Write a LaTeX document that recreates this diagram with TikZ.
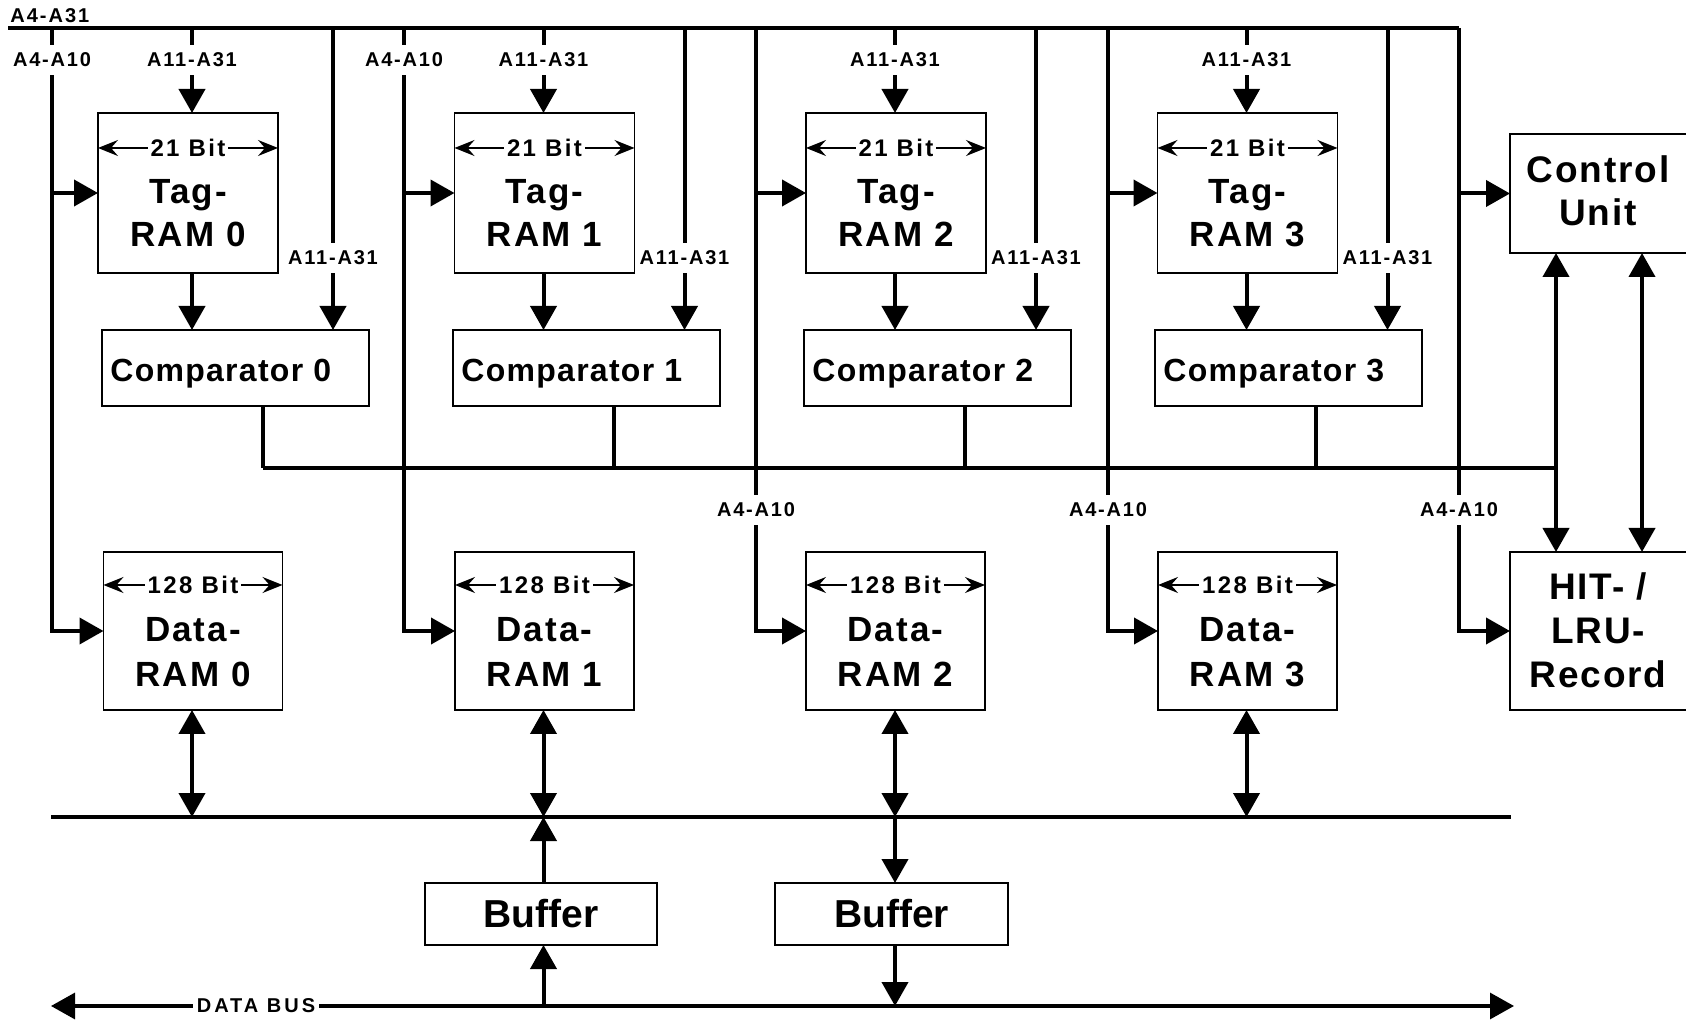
\documentclass[tikz,border=0pt]{standalone}
\usepackage{fontspec}
\setmainfont{Liberation Sans}
\usetikzlibrary{arrows.meta,calc}

% bold Arial-like face at a given size with extra tracking
\newcommand{\txtfont}[2]{\fontsize{#1}{#1}\selectfont\bfseries\addfontfeature{LetterSpace=#2}}

\tikzset{
  blk/.style={draw, line width=0.85pt, fill=white, inner sep=0pt, outer sep=0pt},
  wire/.style={line width=2pt},
  busline/.style={line width=1.6pt},
  tipin/.style={-{Triangle[length=12pt,width=13pt]}},
  tipboth/.style={{Triangle[length=12pt,width=13pt]}-{Triangle[length=12pt,width=13pt]}},
  widthmark/.style={line width=0.8pt,
    {Stealth[length=10pt,width=8pt,inset=3.5pt]}-{Stealth[length=10pt,width=8pt,inset=3.5pt]}},
  siglabel/.style={font={\txtfont{10}{9}}, fill=white, inner xsep=1pt, inner ysep=4pt},
  widthlabel/.style={font={\txtfont{12}{10}}, fill=white, inner xsep=1.5pt, inner ysep=0.5pt},
  boxtext/.style={font={\txtfont{17.5}{6}}, anchor=base, inner sep=0pt},
  cmptext/.style={font={\txtfont{16}{4}}, anchor=base west, inner sep=0pt},
  ctrltext/.style={font={\txtfont{18.5}{5}}, anchor=base, inner sep=0pt},
}

\begin{document}
\begin{tikzpicture}[x=0.5pt, y=-0.5pt]
\useasboundingbox (0,0) rectangle (1686,1020);
\fill[white] (0,0) rectangle (1686,1020);
\clip (0,0) rectangle (1686,1020);

% address bus along the top
\coordinate (busL) at (8,28);
\coordinate (busR) at (1459,28);
\draw[busline] (busL) -- (busR);
\node[font={\txtfont{10}{10}}, anchor=base west, inner sep=0pt] (busname) at (10,23) {A4-A31};

% internal data bus and external data bus
\coordinate (ibusL) at (51,817);
\coordinate (ibus) at (1511,817);
\coordinate (dbusL) at (51,1006);
\coordinate (dbusR) at (1514,1006);

% the four cache ways
\foreach \i/\tagx/\datax in {0/188/193,1/544.5/544.5,2/896/895.5,3/1247.5/1247.5}{
  \pgfmathsetmacro{\Lx}{52+352*\i}
  \pgfmathsetmacro{\Tx}{192+351.5*\i}
  \pgfmathsetmacro{\Rx}{333+351.5*\i}
  \pgfmathsetmacro{\Cx}{235.5+351*\i}
  \pgfmathsetmacro{\Ox}{263+351*\i}
  \pgfmathsetmacro{\Ly}{\i<2 ? 60 : 510}

  \coordinate (lft\i) at (\Lx,28);
  \coordinate (top\i) at (\Tx,28);
  \coordinate (rgt\i) at (\Rx,28);
  \coordinate (out\i) at (\Ox,468);

  \node[blk, minimum width=90pt, minimum height=80pt] (tag\i) at (\tagx,193) {};
  \node[blk, minimum width=133.5pt, minimum height=38pt] (cmp\i) at (\Cx,368) {};
  \node[blk, minimum width=89.5pt, minimum height=79pt] (data\i) at (\datax,631) {};

  % address lines
  \draw[wire,tipin] (lft\i) |- (data\i.west);
  \draw[wire,tipin] (lft\i |- tag\i.west) -- (tag\i.west);
  \draw[wire,tipin] (top\i) -- (top\i |- tag\i.north);
  \draw[wire,tipin] (top\i |- tag\i.south) -- (top\i |- cmp\i.north);
  \draw[wire,tipin] (rgt\i) -- (rgt\i |- cmp\i.north);
  \draw[wire] (out\i |- cmp\i.south) -- (out\i);
  \draw[wire,tipboth] (top\i |- data\i.south) -- (top\i |- ibus);

  \node[siglabel] (la\i) at (\Lx,\Ly) {A4-A10};
  \node[siglabel] (lt\i) at (\Tx,60) {A11-A31};
  \node[siglabel] (lr\i) at (\Rx,258) {A11-A31};

  % tag RAM contents
  \draw[widthmark] ($(tag\i.north west)+(0,35)$) -- ($(tag\i.north east)+(0,35)$);
  \node[widthlabel] (tagw\i) at ($(tag\i.north)+(0,35)$) {21 Bit};
  \node[boxtext] (taga\i) at ($(tag\i.north)+(0,91)$) {Tag-};
  \node[boxtext] (tagb\i) at ($(tag\i.north)+(0,134)$) {RAM \i};

  % comparator
  \node[cmptext] (cmpt\i) at ($(cmp\i.north west)+(8,52)$) {Comparator \i};

  % data RAM contents
  \draw[widthmark] ($(data\i.north west)+(0,33)$) -- ($(data\i.north east)+(0,33)$);
  \node[widthlabel] (dataw\i) at ($(data\i.north)+(0,33)$) {128 Bit};
  \node[boxtext] (dataa\i) at ($(data\i.north)+(0,90)$) {Data-};
  \node[boxtext] (datab\i) at ($(data\i.north)+(0,135)$) {RAM \i};
}

% control unit and HIT/LRU record
\node[blk, minimum width=91pt, minimum height=59.5pt, anchor=west] (ctrl) at (1510,193.5) {};
\node[ctrltext] (ctrla) at (1598,183) {Control};
\node[ctrltext] (ctrlb) at (1598,226) {Unit};
\node[blk, minimum width=91pt, minimum height=79pt, anchor=west] (hit) at (1510,631) {};
\node[ctrltext] (hita) at (1598,600) {HIT- /};
\node[ctrltext] (hitb) at (1598,644) {LRU-};
\node[ctrltext] (hitc) at (1598,688) {Record};

\draw[wire,tipin] (busR) |- (hit.west);
\draw[wire,tipin] (busR |- ctrl.west) -- (ctrl.west);
\node[siglabel] (lc) at (1459,510) {A4-A10};

\coordinate (cl) at (1556,0);
\coordinate (cr) at (1642,0);
\draw[wire,tipboth] (cl |- ctrl.south) -- (cl |- hit.north);
\draw[wire,tipboth] (cr |- ctrl.south) -- (cr |- hit.north);

% comparator result line
\draw[busline] (out0) -- (cl |- out0);

% data paths
\draw[busline] (ibusL) -- (ibus);
\node[blk, minimum width=116pt, minimum height=31pt, font={\txtfont{19.5}{0}}] (buf1) at (541,914) {Buffer};
\node[blk, minimum width=116.5pt, minimum height=31pt, font={\txtfont{19.5}{0}}] (buf2) at (891.5,914) {Buffer};

\draw[wire,tipin] (top1 |- buf1.north) -- (top1 |- ibus);
\draw[wire,tipin] (top1 |- dbusL) -- (top1 |- buf1.south);
\draw[wire,tipin] (top2 |- ibus) -- (top2 |- buf2.north);
\draw[wire,tipin] (top2 |- buf2.south) -- (top2 |- dbusL);

\draw[busline,tipboth] (dbusL) -- (dbusR);
\node[font={\txtfont{10}{15}}, fill=white, inner xsep=2pt, inner ysep=2pt] (dbname) at (256,1006) {DATA BUS};
\end{tikzpicture}
\end{document}
